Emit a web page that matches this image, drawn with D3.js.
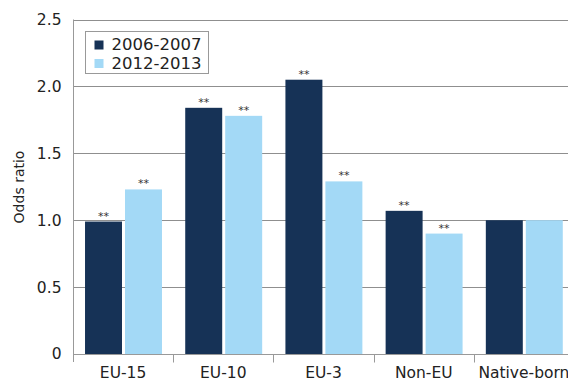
<!DOCTYPE html>
<html>
<head>
<meta charset="utf-8">
<script src="https://cdn.jsdelivr.net/npm/d3@7"></script>
<style>
  html, body { margin: 0; padding: 0; background: #fff; }
  svg { display: block; font-family: "DejaVu Sans", sans-serif; }
</style>
</head>
<body>
<svg id="chart" width="568" height="383"></svg>
<script>
// Odds ratios by country-of-birth group, two survey periods
const categories = ["EU-15", "EU-10", "EU-3", "Non-EU", "Native-born"];
const seriesNames = ["2006-2007", "2012-2013"];
const values2006 = [0.99, 1.84, 2.05, 1.07, 1.00];
const values2012 = [1.23, 1.78, 1.29, 0.90, 1.00];
const significance2006 = ["**", "**", "**", "**", ""];
const significance2012 = ["**", "**", "**", "**", ""];
const yTicks = [0, 0.5, 1.0, 1.5, 2.0, 2.5];
const yTickLabels = ["0", "0.5", "1.0", "1.5", "2.0", "2.5"];
const colors = ["#163256", "#a3d9f6"];

const svg = d3.select("#chart");
const margin = { left: 73, top: 19.5, right: -6, bottom: 29 };
const W = 568, H = 383;
const x0 = margin.left, x1 = W - margin.right;
const yTop = margin.top, yBot = H - margin.bottom;

const x = d3.scaleBand().domain(categories).range([x0, x1]).paddingInner(0).paddingOuter(0);
const bw = x.bandwidth();
const xs = d3.scaleBand().domain(seriesNames)
  .range([bw * 0.12, bw * 0.888]).paddingInner(0.075).paddingOuter(0);
const y = d3.scaleLinear().domain([0, 2.5]).range([yBot, yTop]);

// horizontal gridlines
svg.append("g").selectAll("line").data(yTicks.slice(1)).join("line")
  .attr("x1", x0).attr("x2", W)
  .attr("y1", d => Math.round(y(d)) + 0.5).attr("y2", d => Math.round(y(d)) + 0.5)
  .attr("stroke", "#8f8f8f").attr("stroke-width", 1);

// bars with significance markers
const series = [values2006, values2012];
const stars = [significance2006, significance2012];
series.forEach((vals, si) => {
  const g = svg.append("g");
  g.selectAll("rect").data(categories).join("rect")
    .attr("x", (c) => x(c) + xs(seriesNames[si]))
    .attr("width", xs.bandwidth())
    .attr("y", (c, i) => y(vals[i]))
    .attr("height", (c, i) => yBot - y(vals[i]))
    .attr("fill", colors[si]);
  g.selectAll("text").data(categories).join("text")
    .attr("x", (c) => x(c) + xs(seriesNames[si]) + xs.bandwidth() / 2)
    .attr("y", (c, i) => y(vals[i]) - 2)
    .attr("text-anchor", "middle")
    .attr("font-size", 11)
    .attr("fill", "#333")
    .text((c, i) => stars[si][i]);
});

// y axis
const yAxis = d3.axisLeft(y).tickValues(yTicks).tickFormat((d, i) => yTickLabels[i]).tickSize(0).tickPadding(12);
const gy = svg.append("g").attr("transform", `translate(${x0 + 0.5},0)`).call(yAxis);
gy.select(".domain").attr("stroke", "#999").attr("d", `M0,${yTop}V${yBot + 8}`);
gy.selectAll("text").attr("font-size", 15.5).attr("fill", "#222").attr("font-family", "DejaVu Sans, sans-serif");

// x axis
const xAxis = d3.axisBottom(x).tickSize(0).tickPadding(12);
const gx = svg.append("g").attr("transform", `translate(0,${Math.round(yBot) + 0.5})`).call(xAxis);
gx.select(".domain").attr("stroke", "#999").attr("d", `M${x0},0H${W}`);
gx.selectAll("text").attr("font-size", 15.5).attr("fill", "#222").attr("font-family", "DejaVu Sans, sans-serif");
// separator ticks between category groups
gx.append("g").selectAll("line").data(categories.slice(1)).join("line")
  .attr("x1", c => Math.round(x(c)) + 0.5).attr("x2", c => Math.round(x(c)) + 0.5)
  .attr("y1", 0).attr("y2", 8)
  .attr("stroke", "#999");

// y axis title
svg.append("text")
  .attr("transform", `translate(24,187) rotate(-90)`)
  .attr("text-anchor", "middle")
  .attr("font-size", 14)
  .attr("fill", "#222")
  .text("Odds ratio");

// legend
const lg = svg.append("g").attr("transform", "translate(85.5,31.5)");
lg.append("rect").attr("width", 123).attr("height", 42)
  .attr("fill", "#fff").attr("stroke", "#999");
seriesNames.forEach((s, i) => {
  lg.append("rect").attr("x", 9).attr("y", 9 + i * 18.5).attr("width", 9).attr("height", 9).attr("fill", colors[i]);
  lg.append("text").attr("x", 26).attr("y", 18.5 + i * 18.5)
    .attr("font-size", 16.5).attr("fill", "#222").text(s);
});
</script>
</body>
</html>
